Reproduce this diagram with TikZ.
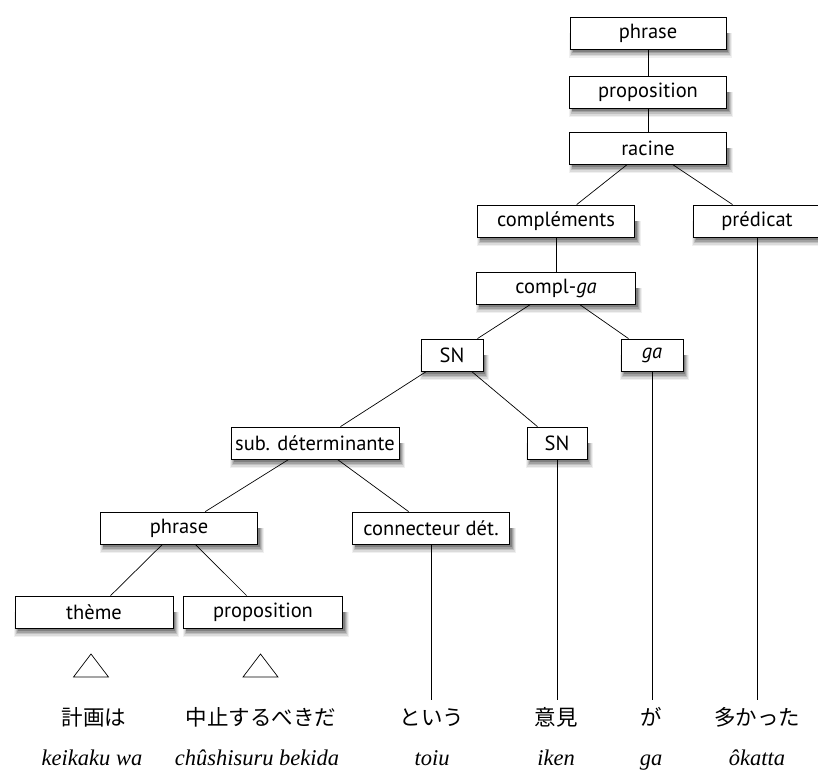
\documentclass[tikz,border=0pt]{standalone}
\usepackage{fontspec}
\setmainfont{PT Sans}
\newfontfamily\jpfont{Noto Sans CJK JP}
\newfontfamily\romfont{Liberation Serif}
\tikzset{
  box/.style={draw, fill=white, line width=0.8pt, inner sep=0pt, minimum height=32pt,
    font=\fontsize{20.5}{24}\selectfont},
  jp/.style={anchor=base, inner xsep=0pt, inner ysep=10pt, text height=15pt, text depth=0pt,
    font=\jpfont\fontsize{21.5}{26}\selectfont},
  rom/.style={anchor=base, inner sep=0pt, font=\romfont\itshape\fontsize{22.5}{26}\selectfont},
  edge/.style={line width=0.7pt},
  tri/.style={line width=0.7pt}
}
% shadowed box: name, x, y, width, text
\newcommand\shadedbox[5]{%
  \fill[black!6]  ({#2-#4/2-1},{#3}) rectangle ({#2+#4/2+6},{#3+16+9});
  \fill[black!14] ({#2-#4/2},{#3}) rectangle ({#2+#4/2+5},{#3+16+7.5});
  \fill[black!25] ({#2-#4/2+1},{#3}) rectangle ({#2+#4/2+4},{#3+16+6});
  \fill[black!37] ({#2-#4/2+2},{#3}) rectangle ({#2+#4/2+3},{#3+16+4.5});
  \fill[black!50] ({#2-#4/2+2.5},{#3}) rectangle ({#2+#4/2+2},{#3+16+3});
  \node[box, minimum width=#4pt] (#1) at (#2,#3) {#5};}
\begin{document}
\begin{tikzpicture}[x=1pt,y=-1pt]
\useasboundingbox (0,0) rectangle (818,773);
% boxes
\shadedbox{p1}{648}{33}{156}{phrase}
\shadedbox{prop1}{648}{92}{157}{proposition}
\shadedbox{rac}{648}{148}{157}{racine}
\shadedbox{compl}{556}{221}{157}{compléments}
\shadedbox{pred}{757}{221}{128}{prédicat}
\shadedbox{cga}{556}{288}{159}{compl-\textit{ga}}
\shadedbox{sn1}{452}{355}{62}{SN}
\shadedbox{ga}{652}{355}{62}{\textit{ga}}
\shadedbox{sn2}{557}{443}{60}{SN}
\shadedbox{sub}{315}{443}{168}{sub. déterminante}
\shadedbox{ph2}{179}{528}{157}{phrase}
\shadedbox{con}{431}{528}{157}{connecteur dét.}
\shadedbox{theme}{94}{612}{158}{thème}
\shadedbox{prop2}{263}{612}{159}{proposition}
% words
\node[jp] (w1) at (94,725) {計画は};
\node[jp] (w2) at (261,725) {中止するべきだ};
\node[jp] (w3) at (432,725) {という};
\node[jp] (w4) at (556,725) {意見};
\node[jp] (w5) at (651,725) {が};
\node[jp] (w6) at (757,725) {多かった};
\node[rom] (r1) at (92,765) {keikaku wa};
\node[rom] (r2) at (257,765) {chûshisuru bekida};
\node[rom] (r3) at (432,765) {toiu};
\node[rom] (r4) at (556,765) {iken};
\node[rom] (r5) at (651,765) {ga};
\node[rom] (r6) at (757,765) {ôkatta};
% triangles
\coordinate (t1) at (91,665.5);
\coordinate (t2) at (260.5,665.5);
\draw[tri] (t1) ++(-17.5,11.5) -- ++(17.5,-23) -- ++(17.5,23) -- cycle;
\draw[tri] (t2) ++(-17.5,11.5) -- ++(17.5,-23) -- ++(17.5,23) -- cycle;
% edges
\draw[edge] (p1) -- (prop1);
\draw[edge] (prop1) -- (rac);
\draw[edge] (rac) -- (compl);
\draw[edge] (rac) -- (pred);
\draw[edge] (compl) -- (cga);
\draw[edge] (cga) -- (sn1);
\draw[edge] (cga) -- (ga);
\draw[edge] (sn1) -- (sub);
\draw[edge] (sn1) -- (sn2);
\draw[edge] (sub) -- (ph2);
\draw[edge] (sub) -- (con);
\draw[edge] (ph2) -- (theme);
\draw[edge] (ph2) -- (prop2);
\draw[edge] (con) -- (con |- w3.north);
\draw[edge] (sn2) -- (sn2 |- w4.north);
\draw[edge] (ga) -- (ga |- w5.north);
\draw[edge] (pred) -- (pred |- w6.north);
\end{tikzpicture}
\end{document}
